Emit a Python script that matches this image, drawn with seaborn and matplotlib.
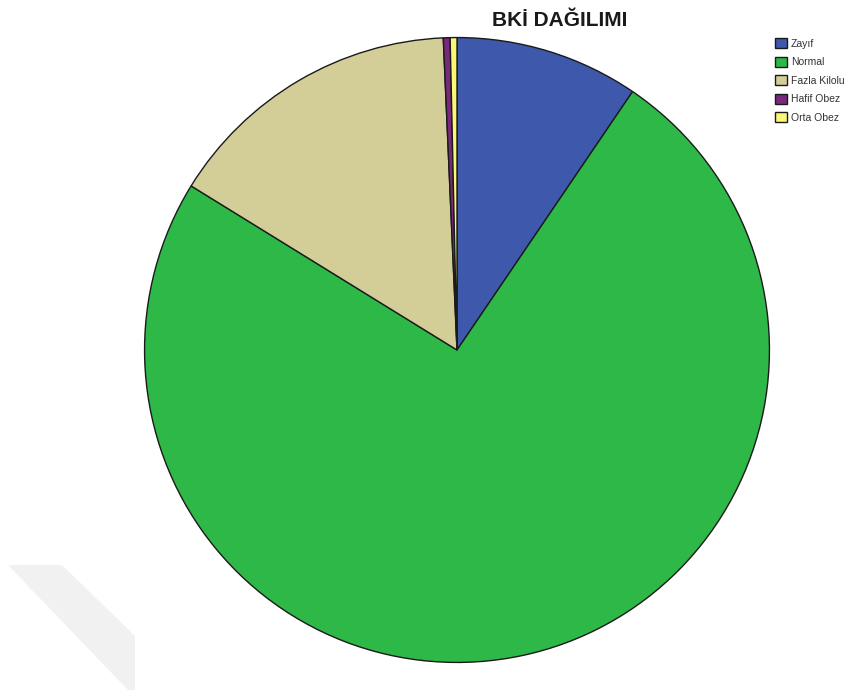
import matplotlib
matplotlib.use("Agg")
import matplotlib.pyplot as plt
from matplotlib.patches import Polygon
import seaborn as sns

labels = ["Zayıf", "Normal", "Fazla Kilolu", "Hafif Obez", "Orta Obez"]
values = [9.5, 74.3, 15.5, 0.35, 0.35]
colors = ["#3E58AC", "#2EB848", "#D3CE97", "#79287D", "#FBF873"]


def run():
    sns.set_theme(style="white")
    plt.rcParams["font.family"] = ["Liberation Sans", "DejaVu Sans"]

    fig = plt.figure(figsize=(8.55, 6.9), dpi=100)
    W, H = 855, 690

    # faint watermark band in the lower left
    wm = [(8, 565), (62, 565), (135, 636), (135, 690), (128, 690)]
    fig.patches.append(Polygon([(x / W, 1 - y / H) for x, y in wm], closed=True,
                               transform=fig.transFigure, facecolor="#F1F1F1",
                               edgecolor="none", zorder=0))

    cx, cy, r = 457, 350, 314
    ax = fig.add_axes([(cx - r) / W, (H - cy - r) / H, 2 * r / W, 2 * r / H])
    wedges, _ = ax.pie(values, colors=sns.color_palette(colors), startangle=90,
                       counterclock=False, radius=1,
                       wedgeprops=dict(edgecolor="#1a1a1a", linewidth=1.0))
    ax.set_xlim(-1.005, 1.005)
    ax.set_ylim(-1.005, 1.005)
    ax.axis("off")

    fig.text(560 / W, 1 - 20 / H, "BKİ DAĞILIMI", ha="center", va="center",
             fontsize=15, fontweight="bold", color="#1a1a1a")

    leg = fig.legend(wedges, labels, loc="upper left",
                     bbox_to_anchor=(775 / W, 1 - 38 / H), frameon=False,
                     fontsize=7.5, handlelength=1.15, handleheight=1.15,
                     handletextpad=0.35, labelspacing=0.75, borderaxespad=0,
                     borderpad=0)
    for t in leg.get_texts():
        t.set_color("#333333")

    fig.savefig("out.png", dpi=100)


if __name__ == "__main__":
    run()
